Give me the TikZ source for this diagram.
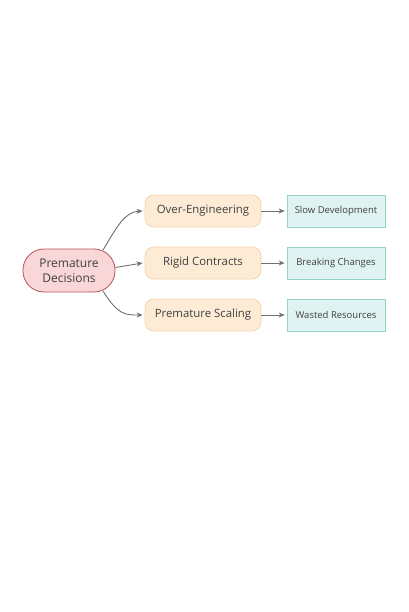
\documentclass[tikz,border=0pt]{standalone}
\usepackage{fontspec}
\setmainfont{Open Sans}
\usetikzlibrary{arrows.meta}
\definecolor{pdfill}{HTML}{F9D6D8}
\definecolor{pddraw}{HTML}{B5575C}
\definecolor{orfill}{HTML}{FDEBD6}
\definecolor{ordraw}{HTML}{F5D6AE}
\definecolor{tefill}{HTML}{DFF4F2}
\definecolor{tedraw}{HTML}{96D3CB}
\definecolor{txt}{HTML}{404040}
\definecolor{arr}{HTML}{707070}
\begin{document}
\begin{tikzpicture}[x=1pt,y=-1pt,
  root/.style={draw=pddraw, fill=pdfill, line width=0.8pt, rounded corners=21pt,
    minimum width=92pt, minimum height=43pt, align=center, font=\fontsize{12}{15}\selectfont, text=txt, inner sep=0pt},
  mid/.style={draw=ordraw, fill=orfill, line width=0.8pt, rounded corners=9pt,
    minimum width=116pt, minimum height=32pt, font=\fontsize{11.4}{13}\selectfont, text=txt, inner sep=0pt},
  leaf/.style={draw=tedraw, fill=tefill, line width=0.8pt,
    minimum width=98pt, minimum height=32pt, font=\fontsize{9.5}{11}\selectfont, text=txt, inner sep=0pt},
  conn/.style={draw=arr, line width=0.9pt, -{Stealth[length=6pt,width=5pt]}}
]
\useasboundingbox (0,0) rectangle (408,612);
\fill[white] (0,0) rectangle (408,612);
\node[root] (pd) at (69,270.5) {Premature\\Decisions};
\node[mid] (oe) at (203,211) {Over-Engineering};
\node[mid] (rc) at (203,263) {Rigid Contracts};
\node[mid] (ps) at (203,315) {Premature Scaling};
\node[leaf] (sd) at (336,211) {Slow Development};
\node[leaf] (bc) at (336,263) {Breaking Changes};
\node[leaf] (wr) at (336,315) {Wasted Resources};
\draw[conn] (103,250) .. controls (118,225) and (125,212) .. ([xshift=-2pt]oe.west);
\draw[conn] (pd.east) ++(0,-3) -- ([xshift=-2pt]rc.west);
\draw[conn] (103,291) .. controls (118,315) and (125,315) .. ([xshift=-2pt]ps.west);
\draw[conn] (oe) -- ([xshift=-2pt]sd.west);
\draw[conn] (rc) -- ([xshift=-2pt]bc.west);
\draw[conn] (ps) -- ([xshift=-2pt]wr.west);
\end{tikzpicture}
\end{document}
